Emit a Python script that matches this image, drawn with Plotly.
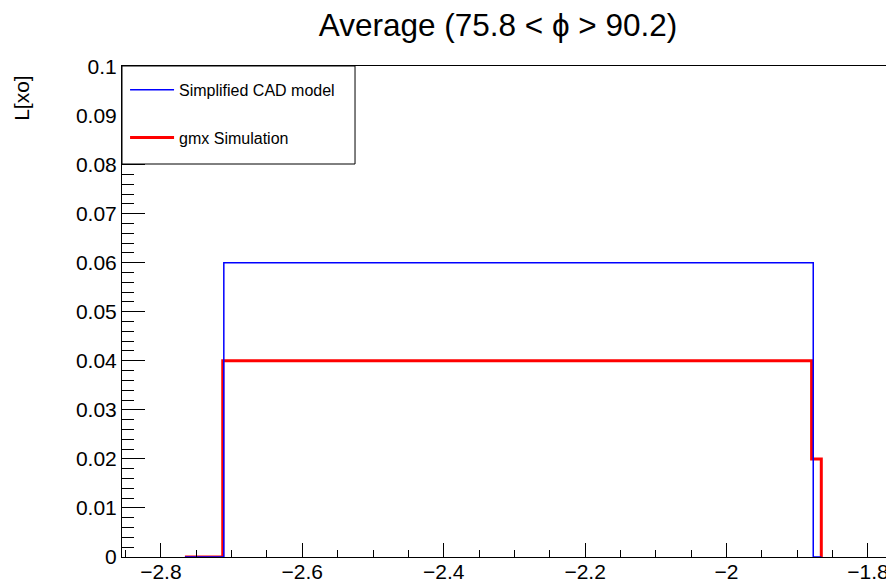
import plotly.graph_objects as go

# ---- data ----
title_text = "Average (75.8 < \u03d5 > 90.2)"
y_title = "L[xo]"
cad_label = "Simplified CAD model"
gmx_label = "gmx Simulation"

cad_edges = [-2.766, -2.711, -1.8774, -1.866]
cad_values = [0.0, 0.06, 0.0]
gmx_edges = [-2.766, -2.7125, -1.8797, -1.866]
gmx_values = [0.0, 0.04, 0.02]

x_range = [-2.855, -1.7745]
y_range = [0, 0.1001]

FONT = "Liberation Sans, Arial, Helvetica, sans-serif"

# the page body adds an 8px offset, so the figure is sized to the visible area
W, H = 886, 575


def step_path(edges, values):
    # outline of a histogram: horizontal at each bin value, closing at zero
    return list(edges), list(values) + [0.0]


fig = go.Figure()
cx, cy = step_path(cad_edges, cad_values)
gx, gy = step_path(gmx_edges, gmx_values)

fig.add_trace(go.Scatter(x=gx, y=gy, mode="lines", line_shape="hv",
                         line=dict(color="#ff0000", width=3),
                         name=gmx_label, legendgroup="b", legendrank=2))
fig.add_trace(go.Scatter(x=cx, y=cy, mode="lines", line_shape="hv",
                         line=dict(color="#0000ff", width=1.5),
                         name=cad_label, legendgroup="a", legendrank=1))

fig.update_layout(
    width=W, height=H,
    margin=dict(l=114, r=8, t=58, b=26, autoexpand=False),
    paper_bgcolor="white", plot_bgcolor="white",
    font=dict(family=FONT, color="black"),
    title=dict(text=title_text, x=490 / W, xref="container", xanchor="center",
               y=1 - 17 / H, yref="container", yanchor="middle",
               font=dict(size=31.5, family=FONT, color="black")),
    showlegend=True,
    legend=dict(x=0.004, y=0.986, xanchor="left", yanchor="top",
                bgcolor="rgba(0,0,0,0)", borderwidth=0,
                font=dict(size=16, family=FONT, color="black"),
                itemwidth=44, tracegroupgap=24, traceorder="grouped"),
    shapes=[dict(type="rect", xref="paper", yref="paper",
                 x0=0.0, x1=0.305, y0=0.8004, y1=1.0,
                 line=dict(color="black", width=1), fillcolor="white",
                 layer="above")],
    annotations=[dict(text=y_title, xref="paper", yref="paper",
                      x=-0.131, y=0.935, xanchor="center", yanchor="middle",
                      textangle=-90, showarrow=False,
                      font=dict(size=21, family=FONT, color="black"))],
)

fig.update_xaxes(range=x_range, showgrid=False, zeroline=False, automargin=False,
                 showline=True, linecolor="black", linewidth=1, mirror=True,
                 ticks="inside", ticklen=14, tickcolor="black", tickwidth=1,
                 dtick=0.2, tick0=-2.8, ticklabelstandoff=-4,
                 minor=dict(dtick=0.05, tick0=-2.8, ticks="inside", ticklen=7,
                            tickcolor="black", tickwidth=1),
                 tickfont=dict(size=21, family=FONT, color="black"))
fig.update_yaxes(range=y_range, showgrid=False, zeroline=False, automargin=False,
                 showline=True, linecolor="black", linewidth=1, mirror=True,
                 ticks="inside", ticklen=23, tickcolor="black", tickwidth=1,
                 dtick=0.01, tick0=0,
                 minor=dict(dtick=0.002, ticks="inside", ticklen=12,
                            tickcolor="black", tickwidth=1),
                 tickfont=dict(size=21, family=FONT, color="black"))

fig.write_html("out.html")
